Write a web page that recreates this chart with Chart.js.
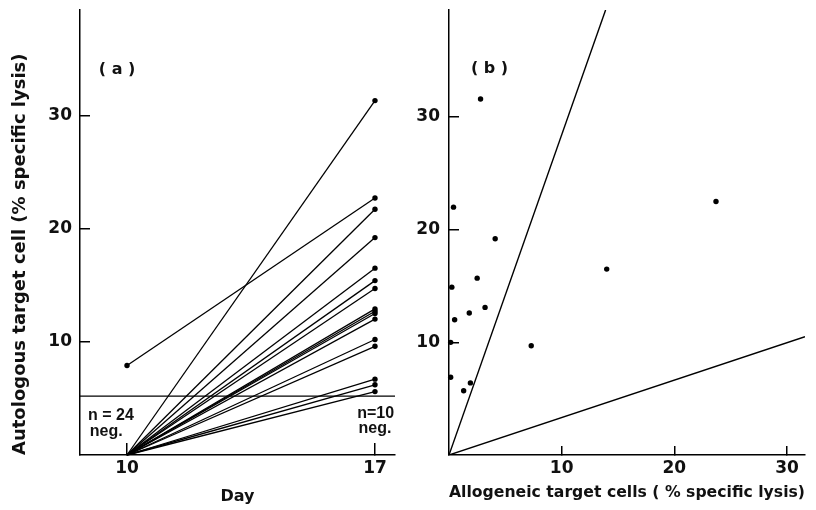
<!DOCTYPE html>
<html>
<head>
<meta charset="utf-8">
<script src="https://cdn.jsdelivr.net/npm/chart.js@4.4.0/dist/chart.umd.min.js"></script>
<style>
  body { margin: 0; background: #fff; }
  #wrap { position: relative; width: 816px; height: 510px; }
  #boxA { position: absolute; left: 0; top: 0; width: 410px; height: 510px; }
  #boxB { position: absolute; left: 410px; top: 0; width: 406px; height: 510px; }
</style>
</head>
<body>
<div id="wrap">
  <div id="boxA"><canvas id="chartA"></canvas></div>
  <div id="boxB"><canvas id="chartB"></canvas></div>
</div>
<script>
// panel (a): autologous lysis, day 10 -> day 17 (one line per patient)
var dayTicks = [10, 17];
var day10Lysis = [0, 7.9, 0, 0, 0, 0, 0, 0, 0, 0, 0, 0, 0, 0, 0, 0];
var day17Lysis = [31.3, 22.7, 21.7, 19.2, 16.5, 15.4, 14.7, 12.9, 12.7, 12.5, 12.0, 10.2, 9.6, 6.7, 6.2, 5.6];
var negCutoff = 5.2;
var lysisTicks = [10, 20, 30];

// panel (b): autologous vs allogeneic lysis
var alloLysis = [2.8, 0.4, 4.1, 14.0, 23.7, 2.5, 0.25, 3.2, 1.8, 0.5, 0.15, 7.3, 0.15, 1.9, 1.3];
var autoLysis = [31.6, 22.0, 19.2, 16.5, 22.5, 15.7, 14.9, 13.1, 12.6, 12.0, 10.0, 9.7, 6.9, 6.4, 5.7];
var alloTicks = [10, 20, 30];
var steepLineX = [0, 13.9];
var steepLineY = [0, 39.5];
var flatLineX = [0, 31.6];
var flatLineY = [0, 10.5];

var ink = '#111';
var wide = '"DejaVu Sans", sans-serif';
var narrow = '"Liberation Sans", Arial, sans-serif';
var tickFont = { family: wide, size: 17, weight: 'bold' };
var titleFont = { family: wide, size: 16, weight: 'bold' };
var yTitleFont = { family: wide, size: 18, weight: 'bold' };

// small text notes placed in data coordinates
var notes = {
  id: 'notes',
  afterDatasetsDraw: function (chart, args, opts) {
    var ctx = chart.ctx;
    var xs = chart.scales.x, ys = chart.scales.y;
    ctx.save();
    ctx.fillStyle = ink;
    ctx.textBaseline = 'middle';
    opts.items.forEach(function (n) {
      ctx.font = n.font || ('bold 16px ' + narrow);
      ctx.textAlign = n.align || 'center';
      ctx.fillText(n.text, xs.getPixelForValue(n.x), ys.getPixelForValue(n.y));
    });
    ctx.restore();
  }
};

function fixedTicks(values) {
  return function (scale) {
    scale.ticks = values.map(function (v) { return { value: v }; });
  };
}

// force a box size and drop the label overhang padding
function fitTo(size) {
  return function (s) {
    if (s.isHorizontal()) { s.height = size; } else { s.width = size; }
    s.paddingTop = s.paddingBottom = s.paddingLeft = s.paddingRight = 0;
  };
}

function axis(opts) {
  return Object.assign({
    type: 'linear',
    grid: { drawOnChartArea: false, color: '#000', lineWidth: 1.5, tickLength: -10 },
    border: { color: '#000', width: 1.5 },
    ticks: { color: ink, font: tickFont }
  }, opts);
}

Chart.defaults.animation = false;
Chart.defaults.plugins.legend.display = false;
Chart.defaults.plugins.tooltip.enabled = false;

// create panel (a).
function createDayChart() {
  var datasets = day10Lysis.map(function (v, i) {
    return {
      data: [{ x: dayTicks[0], y: v }, { x: dayTicks[1], y: day17Lysis[i] }],
      showLine: true,
      borderColor: '#000',
      borderWidth: 1.3,
      pointRadius: [v > 0 ? 2.7 : 0, 2.7],
      pointBackgroundColor: '#000',
      pointBorderWidth: 0,
      clip: false
    };
  });
  var xMin = 8.673, xMax = 17.565;
  datasets.push({
    data: [{ x: xMin, y: negCutoff }, { x: xMax, y: negCutoff }],
    showLine: true,
    borderColor: '#000',
    borderWidth: 1.4,
    pointRadius: 0
  });

  new Chart(document.getElementById('chartA'), {
    type: 'scatter',
    data: { datasets: datasets },
    options: {
      responsive: true,
      maintainAspectRatio: false,
      layout: { padding: { top: 10, right: 15, left: 0, bottom: 0 } },
      scales: {
        x: axis({
          min: xMin, max: xMax,
          afterBuildTicks: fixedTicks(dayTicks),
          afterFit: fitTo(55),
          grid: { drawOnChartArea: false, color: '#000', lineWidth: 1.5, tickLength: -12 },
          ticks: { color: ink, font: tickFont, padding: 15 },
          title: { display: true, text: 'Day', color: ink, font: titleFont, padding: { top: 0, bottom: 4 } }
        }),
        y: axis({
          min: 0, max: 39.3,
          afterBuildTicks: fixedTicks(lysisTicks),
          afterFit: fitTo(80),
          ticks: { color: ink, font: tickFont, padding: 18 },
          title: {
            display: true, align: 'start', color: ink, font: yTitleFont,
            text: 'Autologous target cell (% specific lysis)',
            padding: { top: 10, bottom: 0 }
          }
        })
      },
      plugins: {
        notes: {
          items: [
            { text: '( a )', x: 9.72, y: 34.0, font: 'bold 16px ' + wide },
            { text: 'n = 24', x: 8.9, y: 3.5, align: 'left' },
            { text: 'neg.', x: 8.95, y: 2.1, align: 'left' },
            { text: 'n=10', x: 17.02, y: 3.7 },
            { text: 'neg.', x: 17.0, y: 2.3 }
          ]
        }
      }
    },
    plugins: [notes]
  });
}

// create panel (b).
function createCrossChart() {
  var points = alloLysis.map(function (v, i) { return { x: v, y: autoLysis[i] }; });
  function refLine(xs, ys) {
    return {
      data: xs.map(function (v, i) { return { x: v, y: ys[i] }; }),
      showLine: true,
      borderColor: '#000',
      borderWidth: 1.4,
      pointRadius: 0
    };
  }

  new Chart(document.getElementById('chartB'), {
    type: 'scatter',
    data: {
      datasets: [
        { data: points, pointRadius: 2.7, pointBackgroundColor: '#000', pointBorderWidth: 0, clip: false },
        refLine(steepLineX, steepLineY),
        refLine(flatLineX, flatLineY)
      ]
    },
    options: {
      responsive: true,
      maintainAspectRatio: false,
      layout: { padding: { top: 10, right: 11, left: 0, bottom: 0 } },
      scales: {
        x: axis({
          min: 0, max: 31.6,
          afterBuildTicks: fixedTicks(alloTicks),
          afterFit: fitTo(55),
          grid: { drawOnChartArea: false, color: '#000', lineWidth: 1.5, tickLength: -9 },
          ticks: { color: ink, font: tickFont, padding: 12 },
          title: {
            display: true, text: 'Allogeneic target cells ( % specific lysis)',
            color: ink, font: titleFont, padding: { top: 0, bottom: 8 }
          }
        }),
        y: axis({
          min: 0, max: 39.5,
          afterBuildTicks: fixedTicks(lysisTicks),
          afterFit: fitTo(39),
          ticks: { color: ink, font: tickFont, padding: 19 }
        })
      },
      plugins: {
        notes: { items: [{ text: '( b )', x: 3.6, y: 34.3, font: 'bold 16px ' + wide }] }
      }
    },
    plugins: [notes]
  });
}

createDayChart();
createCrossChart();
</script>
</body>
</html>
